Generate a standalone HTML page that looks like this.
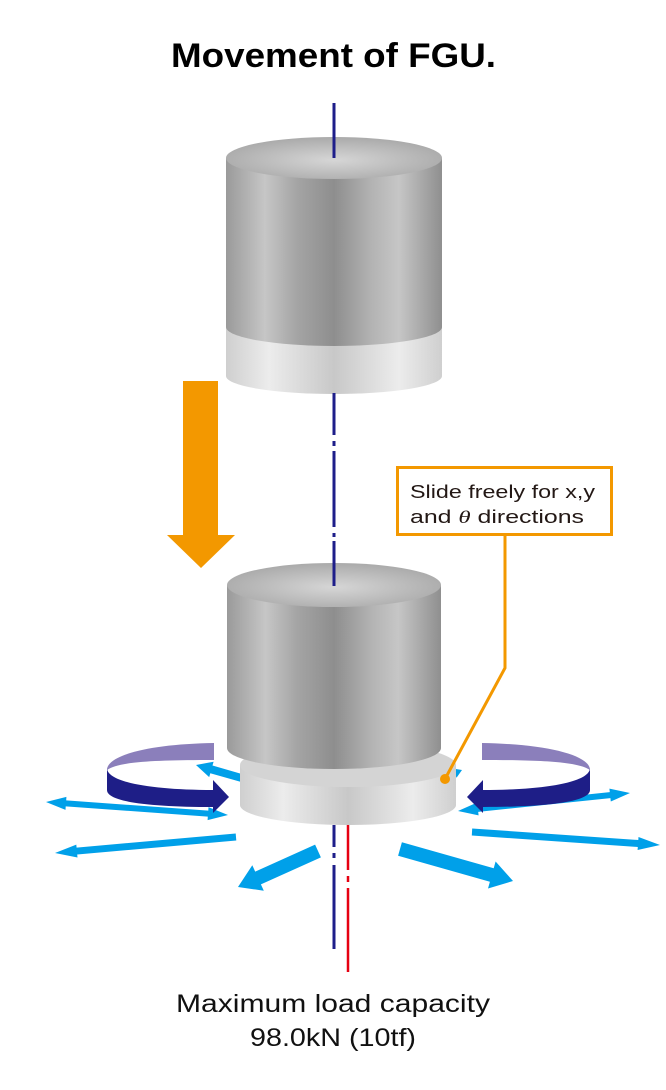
<!DOCTYPE html>
<html><head><meta charset="utf-8"><style>
html,body{margin:0;padding:0;background:#fff;}
svg{display:block;}
text{font-family:"Liberation Sans",sans-serif;}
</style></head><body>
<svg id="s" width="666" height="1090" viewBox="0 0 666 1090" xmlns="http://www.w3.org/2000/svg">
<defs>
<linearGradient id="dk" x1="0" x2="1" y1="0" y2="0">
<stop offset="0" stop-color="#9a9a9a"/><stop offset="0.18" stop-color="#c6c6c6"/><stop offset="0.33" stop-color="#a4a4a4"/><stop offset="0.5" stop-color="#8e8e8e"/><stop offset="0.68" stop-color="#b4b4b4"/><stop offset="0.8" stop-color="#c6c6c6"/><stop offset="1" stop-color="#8f8f8f"/>
</linearGradient>
<linearGradient id="lt" x1="0" x2="1" y1="0" y2="0">
<stop offset="0" stop-color="#cfcfcf"/><stop offset="0.2" stop-color="#ececec"/><stop offset="0.5" stop-color="#c8c8c8"/><stop offset="0.8" stop-color="#ececec"/><stop offset="1" stop-color="#cfcfcf"/>
</linearGradient>
<radialGradient id="tp" cx="0.5" cy="0.55" r="0.6">
<stop offset="0" stop-color="#d6d6d6"/><stop offset="1" stop-color="#a6a6a6"/>
</radialGradient>
</defs>
<text x="171" y="67" textLength="325" lengthAdjust="spacingAndGlyphs" font-size="34" font-weight="bold" fill="#000">Movement of FGU.</text>

<line x1="334" y1="103" x2="334" y2="160" stroke="#1e1e8a" stroke-width="3"/>
<path d="M226,322 L226,376 A108,18 0 0 0 442,376 L442,322 Z" fill="url(#lt)"/>
<path d="M226,158 L226,327 A108,19 0 0 0 442,327 L442,158 Z" fill="url(#dk)"/>
<ellipse cx="334" cy="158" rx="108" ry="21" fill="url(#tp)"/>
<line x1="334" y1="103" x2="334" y2="158" stroke="#1e1e8a" stroke-width="3"/>

<g stroke="#1e1e8a" stroke-width="3">
<line x1="334" y1="393" x2="334" y2="435"/><line x1="334" y1="441" x2="334" y2="446"/>
<line x1="334" y1="451" x2="334" y2="527"/><line x1="334" y1="533" x2="334" y2="537"/>
<line x1="334" y1="541" x2="334" y2="586"/>
</g>

<polygon points="183,381 218,381 218,535 235,535 201,568 167,535 183,535" fill="#f39800"/>

<rect x="397.5" y="467.5" width="214" height="67" fill="#fff" stroke="#f39800" stroke-width="3"/>
<text x="410" y="498" textLength="185" lengthAdjust="spacingAndGlyphs" font-size="18" fill="#231815">Slide freely for x,y</text>
<text x="410" y="523" textLength="174" lengthAdjust="spacingAndGlyphs" font-size="18" fill="#231815">and  <tspan font-family="Liberation Serif,serif" font-style="italic">θ</tspan>  directions</text>

<g id="blue" fill="#00a0e9"></g>

<path d="M240,765 L240,805 A108,20 0 0 0 456,805 L456,765 Z" fill="url(#lt)"/>
<ellipse cx="348" cy="765" rx="108" ry="22" fill="#d4d4d4"/>
<path d="M227,585 L227,748 A107,21 0 0 0 441,748 L441,585 Z" fill="url(#dk)"/>
<ellipse cx="334" cy="585" rx="107" ry="22" fill="url(#tp)"/>
<line x1="334" y1="563" x2="334" y2="586" stroke="#1e1e8a" stroke-width="3"/>

<path d="M214,743 C150,744 107,755 107,770 C118,762 150,760 214,760 Z" fill="#8b7fbb"/>
<path d="M107,768 C107,782 150,790 213,790 L213,780 L229,797 L213,813 L213,807 C150,807 107,802 107,790 Z" fill="#1e1e87"/>
<path d="M482,743 C546,744 590,755 590,770 C578,762 546,760 482,760 Z" fill="#8b7fbb"/>
<path d="M590,768 C590,782 546,790 483,790 L483,780 L467,797 L483,813 L483,807 C546,807 590,802 590,790 Z" fill="#1e1e87"/>

<polyline points="505,536 505,668 445,779" fill="none" stroke="#f39800" stroke-width="3"/>
<circle cx="445" cy="779" r="5" fill="#f39800"/>

<g stroke="#1e1e8a" stroke-width="3">
<line x1="334" y1="825" x2="334" y2="847"/><line x1="334" y1="853" x2="334" y2="858"/><line x1="334" y1="865" x2="334" y2="949"/>
</g>
<g stroke="#e60012" stroke-width="2.5">
<line x1="348" y1="825" x2="348" y2="870"/><line x1="348" y1="876" x2="348" y2="882"/><line x1="348" y1="888" x2="348" y2="972"/>
</g>

<text x="176" y="1012" textLength="314" lengthAdjust="spacingAndGlyphs" font-size="25" fill="#111">Maximum load capacity</text>
<text x="250" y="1046" textLength="166" lengthAdjust="spacingAndGlyphs" font-size="25" fill="#111">98.0kN (10tf)</text>
</svg>
<script>
function arr(x1,y1,x2,y2,w,hw,hl,two){
 var dx=x2-x1,dy=y2-y1,L=Math.hypot(dx,dy),ux=dx/L,uy=dy/L,nx=-uy,ny=ux;
 function p(t,o){return [(x1+ux*t+nx*o).toFixed(1),(y1+uy*t+ny*o).toFixed(1)].join(',');}
 var pts=[];
 if(two){pts.push(p(0,0),p(hl,hw/2),p(hl,w/2));}else{pts.push(p(0,-w/2),p(0,w/2));}
 pts.push(p(L-hl,w/2),p(L-hl,hw/2),p(L,0),p(L-hl,-hw/2),p(L-hl,-w/2));
 if(two){pts.push(p(hl,-w/2),p(hl,-hw/2));}
 var e=document.createElementNS('http://www.w3.org/2000/svg','polygon');
 e.setAttribute('points',pts.join(' '));
 document.getElementById('blue').appendChild(e);
}
arr(228,815,46,802,6,13,20,true);
arr(236,837,55,853,7,13,22,false);
arr(318,851,238,887,14,28,22,false);
arr(400,849,513,881,14,28,22,false);
arr(472,832,660,845,7,13,22,false);
arr(458,811,630,793,6,13,20,true);
arr(245,779,196,765,8,16,16,false);
arr(450,775,462,770,6,10,8,false);
</script>
</body></html>
